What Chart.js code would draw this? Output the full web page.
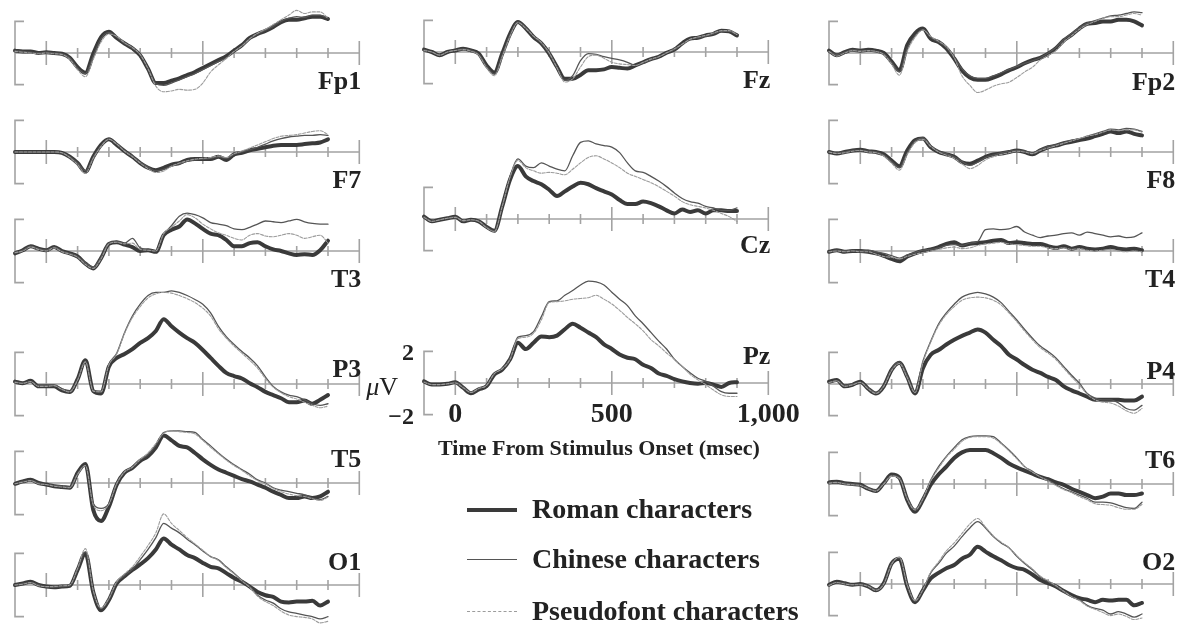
<!DOCTYPE html>
<html>
<head>
<meta charset="utf-8">
<title>ERP waveforms by electrode</title>
<script src="https://cdn.jsdelivr.net/npm/chart.js@4.4.1/dist/chart.umd.min.js"></script>
<style>
  body { margin: 0; background: #fff; }
  #page { position: relative; width: 1180px; height: 624px; overflow: hidden; background: #fff; }
  #page canvas { position: absolute; }
  .txt { position: absolute; white-space: nowrap; font-family: "Liberation Serif", "Times New Roman", serif; font-weight: bold; color: #222; }
  .key { position: absolute; height: 0; }
</style>
</head>
<body>
<div id="page"></div>
<script>
// time points (msec) shared by every waveform
const times = [-100,-75,-50,-25,0,25,50,75,100,125,150,175,200,225,250,275,300,325,350,375,400,425,450,475,500,525,550,575,600,625,650,675,700,725,750,775,800,825,850,875,900];

// amplitudes (microvolts)
const fp1Roman   = [0.15,0.1,0.1,0.0,0.05,0.0,-0.05,-0.3,-0.9,-1.25,-0.05,1.0,1.35,0.95,0.6,0.3,-0.15,-1.0,-1.9,-1.9,-1.75,-1.6,-1.4,-1.2,-0.95,-0.7,-0.45,-0.2,0.15,0.5,0.95,1.2,1.4,1.65,1.95,2.1,2.1,2.2,2.3,2.3,2.15];
const fp1Chinese = [0.15,0.1,0.05,0.0,0.05,0.0,-0.05,-0.3,-0.95,-1.3,-0.2,0.9,1.3,1.0,0.6,0.3,-0.1,-0.95,-1.95,-2.05,-1.9,-1.7,-1.5,-1.3,-1.05,-0.8,-0.55,-0.3,0.1,0.45,0.9,1.2,1.45,1.7,2.0,2.2,2.3,2.25,2.4,2.4,2.2];
const fp1Pseudo  = [0.1,0.05,0.0,-0.05,0.0,-0.05,-0.1,-0.4,-1.05,-1.5,-0.4,0.7,1.2,1.05,0.65,0.35,-0.1,-1.0,-2.1,-2.45,-2.4,-2.3,-2.35,-2.3,-1.9,-1.2,-0.75,-0.35,0.1,0.45,0.9,1.25,1.5,1.8,2.1,2.4,2.7,2.5,2.6,2.6,2.2];

const f7Roman   = [0,0,0,0,0,0,-0.05,-0.3,-0.7,-1.25,-0.3,0.45,0.8,0.45,0.05,-0.3,-0.7,-1.0,-1.15,-1.0,-0.8,-0.7,-0.5,-0.45,-0.45,-0.45,-0.3,-0.5,-0.15,-0.05,0.1,0.2,0.3,0.4,0.45,0.45,0.45,0.5,0.55,0.6,0.8];
const f7Chinese = [0,0,0,0,0,0,-0.05,-0.3,-0.7,-1.2,-0.35,0.4,0.85,0.5,0.1,-0.25,-0.65,-0.95,-1.2,-1.1,-0.9,-0.75,-0.6,-0.5,-0.45,-0.4,-0.3,-0.4,-0.15,0.0,0.15,0.3,0.5,0.7,0.85,0.95,1.0,1.05,1.05,1.1,1.05];
const f7Pseudo  = [0,0,0,0,0,0,-0.05,-0.35,-0.8,-1.35,-0.4,0.35,0.8,0.5,0.05,-0.3,-0.7,-1.05,-1.3,-1.2,-0.9,-0.7,-0.55,-0.45,-0.4,-0.35,-0.25,-0.35,-0.1,0.05,0.25,0.45,0.65,0.85,1.0,1.05,1.1,1.2,1.3,1.35,1.1];

const t3Roman   = [-0.15,0.05,0.3,0.15,0.05,0.25,0.0,-0.15,-0.35,-0.8,-1.1,-0.45,0.45,0.55,0.4,0.25,0.0,0.05,-0.05,1.0,1.35,1.55,2.0,1.75,1.4,1.1,1.0,0.7,0.3,0.3,0.5,0.55,0.3,0.1,0.0,-0.15,-0.25,-0.2,-0.25,0.05,0.65];
const t3Chinese = [-0.15,0.05,0.3,0.15,0.05,0.25,0.0,-0.15,-0.35,-0.75,-1.0,-0.4,0.5,0.6,0.5,0.8,0.2,0.1,0.0,1.05,1.6,2.2,2.4,2.3,2.1,1.8,1.7,1.6,1.4,1.35,1.5,1.7,1.9,1.85,1.8,1.9,2.0,1.85,1.75,1.7,1.7];
const t3Pseudo  = [-0.1,0.0,0.25,0.1,0.0,0.2,-0.05,-0.2,-0.4,-0.85,-1.1,-0.5,0.45,0.55,0.45,0.5,0.1,0.05,0.0,1.1,1.5,1.9,2.3,2.1,1.7,1.4,1.15,1.0,0.8,0.7,1.0,1.1,0.95,0.9,1.0,1.1,1.0,0.8,0.9,1.0,0.5];

const p3Roman   = [0.15,0.05,0.2,-0.15,-0.15,-0.15,-0.4,-0.5,0.3,1.5,-0.45,-0.6,1.1,1.65,1.9,2.2,2.6,2.9,3.35,4.1,3.65,3.25,2.9,2.6,2.15,1.65,1.15,0.7,0.5,0.35,0.05,-0.2,-0.5,-0.7,-0.9,-1.15,-1.15,-1.05,-1.25,-1.0,-0.7];
const p3Chinese = [0.15,0.05,0.15,-0.1,-0.1,-0.1,-0.3,-0.45,0.3,1.45,-0.4,-0.45,1.25,1.95,3.25,4.3,5.05,5.6,5.8,5.8,5.9,5.8,5.6,5.35,5.05,4.5,3.65,3.0,2.5,2.05,1.65,1.15,0.45,-0.15,-0.5,-0.7,-0.8,-1.0,-1.25,-1.35,-1.25];
const p3Pseudo  = [0.1,0.05,0.15,-0.15,-0.15,-0.1,-0.35,-0.5,0.25,1.4,-0.45,-0.5,1.2,1.9,3.2,4.2,4.9,5.45,5.7,5.8,5.75,5.6,5.4,5.15,4.8,4.3,3.5,2.9,2.4,1.95,1.5,1.0,0.35,-0.2,-0.55,-0.8,-0.95,-1.15,-1.35,-1.5,-1.4];

const t5Roman   = [-0.05,0.1,0.2,0,-0.1,-0.2,-0.25,-0.3,0.65,1.2,-1.7,-2.4,-1.5,-0.1,0.65,0.95,1.4,1.7,2.25,3.0,2.7,2.35,2.25,1.9,1.5,1.15,0.85,0.65,0.45,0.25,0.1,-0.1,-0.3,-0.55,-0.75,-0.95,-0.95,-0.85,-0.95,-0.85,-0.55];
const t5Chinese = [-0.05,0.1,0.15,0,-0.1,-0.15,-0.2,-0.25,0.6,1.1,-1.3,-1.6,-1.3,0.0,0.7,1.0,1.45,1.8,2.4,3.2,3.3,3.3,3.25,3.2,2.75,2.35,1.9,1.5,1.15,0.85,0.55,0.2,0.0,-0.3,-0.45,-0.55,-0.65,-0.75,-0.95,-1.05,-0.85];
const t5Pseudo  = [-0.05,0.05,0.15,-0.05,-0.1,-0.2,-0.25,-0.3,0.55,1.1,-1.4,-1.75,-1.35,-0.05,0.7,1.0,1.5,1.9,2.5,3.15,3.3,3.25,3.2,3.1,2.7,2.25,1.85,1.45,1.1,0.8,0.45,0.15,-0.05,-0.35,-0.55,-0.7,-0.8,-0.85,-1.0,-1.1,-0.9];

const o1Roman   = [0,0.1,0.2,0,-0.1,-0.15,-0.1,-0.05,0.95,2.0,-0.45,-1.6,-0.95,0.1,0.55,0.95,1.3,1.7,2.25,2.95,2.55,2.25,1.9,1.7,1.4,1.15,1.05,0.75,0.45,0.2,-0.1,-0.45,-0.65,-0.75,-1.05,-1.1,-1.05,-1.05,-1.0,-1.3,-1.05];
const o1Chinese = [0,0.1,0.15,0,-0.1,-0.15,-0.1,-0.05,1.0,2.1,-0.4,-1.5,-0.9,0.15,0.6,1.0,1.6,2.25,3.0,3.9,3.6,3.3,2.9,2.55,2.15,1.8,1.6,1.15,0.75,0.3,-0.1,-0.65,-0.95,-1.15,-1.5,-1.7,-1.8,-1.9,-2.0,-2.15,-2.0];
const o1Pseudo  = [0,0.05,0.15,-0.05,-0.1,-0.1,-0.05,0.0,1.05,2.3,-0.35,-1.45,-0.85,0.2,0.7,1.15,1.8,2.5,3.3,4.5,3.9,3.45,3.0,2.6,2.2,1.8,1.55,1.1,0.7,0.25,-0.15,-0.7,-1.05,-1.3,-1.65,-1.9,-2.0,-2.05,-2.15,-2.4,-2.3];

const fzRoman   = [0.15,0,-0.2,0,0.1,0.2,0.1,-0.1,-0.85,-1.3,-0.1,1.15,1.9,1.5,0.95,0.55,-0.1,-0.95,-1.7,-1.7,-1.45,-1.15,-1.15,-1.1,-0.95,-1.0,-1.05,-0.85,-0.65,-0.45,-0.3,-0.05,0.15,0.55,0.85,0.9,1.05,1.15,1.35,1.3,1.05];
const fzChinese = [0.15,0,-0.2,0,0.1,0.2,0.1,-0.15,-0.9,-1.4,-0.2,1.1,1.9,1.55,1.0,0.55,-0.1,-1.0,-1.8,-1.5,-0.55,-0.1,-0.15,-0.3,-0.4,-0.5,-0.65,-0.85,-0.7,-0.5,-0.3,-0.05,0.15,0.5,0.8,0.9,1.0,1.15,1.3,1.3,1.1];
const fzPseudo  = [0.1,0,-0.2,0,0.1,0.15,0.05,-0.2,-1.0,-1.5,-0.3,1.0,1.85,1.5,1.0,0.6,-0.05,-1.0,-1.9,-1.7,-0.95,-0.3,-0.2,-0.4,-0.65,-0.75,-0.8,-0.85,-0.65,-0.45,-0.3,-0.05,0.2,0.5,0.8,0.95,1.05,1.2,1.35,1.35,1.1];

const czRoman   = [0.15,-0.15,-0.05,0.05,0.15,-0.15,-0.05,-0.15,-0.5,-0.75,0.8,2.5,3.35,2.7,2.4,2.2,1.85,1.45,1.75,2.05,2.3,2.2,1.95,1.75,1.55,1.2,0.95,0.95,1.1,1.0,0.8,0.55,0.35,0.6,0.45,0.55,0.35,0.55,0.55,0.5,0.5];
const czChinese = [0.15,-0.15,-0.05,0.05,0.15,-0.15,-0.05,-0.15,-0.5,-0.75,0.85,2.7,3.8,3.35,3.25,3.55,3.35,3.15,3.05,4.0,4.85,4.95,4.75,4.65,4.55,4.2,3.55,3.05,2.95,2.7,2.4,2.05,1.65,1.3,1.1,1.0,0.8,0.7,0.55,0.55,0.7];
const czPseudo  = [0.1,-0.15,-0.05,0.05,0.1,-0.1,-0.05,-0.15,-0.55,-0.8,0.8,2.65,3.7,3.25,3.05,2.9,2.95,2.9,2.8,3.15,3.55,3.9,4.0,3.8,3.55,3.25,2.9,2.7,2.5,2.3,2.05,1.75,1.45,1.1,0.9,0.8,0.7,0.55,0.35,0.15,-0.15];

const pzRoman   = [0.1,-0.1,-0.1,-0.05,0.05,-0.3,-0.65,-0.4,-0.2,0.55,0.85,1.5,2.55,2.15,2.55,2.95,2.9,3.0,3.4,3.75,3.5,3.2,2.9,2.45,2.15,1.8,1.6,1.5,1.15,0.95,0.6,0.45,0.25,0.1,0,-0.05,0,-0.1,-0.25,0,0.05];
const pzChinese = [0.1,-0.1,-0.1,-0.05,0.05,-0.25,-0.6,-0.35,-0.15,0.6,0.9,1.55,2.9,3.0,3.25,4.2,5.15,5.2,5.55,5.85,6.2,6.45,6.4,6.2,5.75,5.3,4.9,4.25,3.75,3.2,2.65,2.15,1.5,1.05,0.65,0.3,0.1,-0.2,-0.55,-0.65,-0.65];
const pzPseudo  = [0.05,-0.1,-0.1,-0.05,0.0,-0.3,-0.6,-0.35,-0.15,0.6,0.9,1.5,2.8,2.9,3.15,4.0,5.1,5.15,5.2,5.3,5.35,5.4,5.55,5.3,5.0,4.6,4.15,3.75,3.3,2.75,2.35,1.9,1.5,1.05,0.55,0.2,-0.1,-0.45,-0.75,-0.85,-0.85];

const fp2Roman   = [0.15,-0.15,0.05,0.2,0.15,0.2,0.15,0,-0.55,-1.1,0.5,1.25,1.55,0.9,0.7,0.3,-0.35,-1.1,-1.55,-1.7,-1.7,-1.55,-1.35,-1.1,-0.9,-0.65,-0.45,-0.3,-0.05,0.3,0.8,1.15,1.55,1.85,1.9,2.0,2.0,2.1,2.1,2.0,1.75];
const fp2Chinese = [0.1,-0.1,0.05,0.2,0.15,0.15,0.1,-0.05,-0.6,-1.2,0.3,1.1,1.5,1.0,0.7,0.35,-0.3,-1.0,-1.45,-1.6,-1.6,-1.45,-1.25,-1.05,-0.85,-0.65,-0.5,-0.3,0.0,0.35,0.85,1.25,1.6,1.9,2.05,2.2,2.35,2.4,2.5,2.6,2.55];
const fp2Pseudo  = [0.1,-0.2,0.0,0.15,0.1,0.15,0.1,-0.1,-0.7,-1.4,0.1,1.0,1.45,1.05,0.75,0.4,-0.3,-1.45,-2.05,-2.5,-2.35,-2.1,-1.95,-1.85,-1.55,-1.2,-0.9,-0.45,-0.15,0.15,0.7,1.1,1.5,1.8,2.0,2.2,2.3,2.3,2.4,2.5,2.4];

const f8Roman   = [0,-0.1,0,0.1,0.15,0.05,0,-0.15,-0.55,-0.9,0.1,0.75,0.85,0.3,0,-0.15,-0.3,-0.65,-0.75,-0.55,-0.3,-0.15,-0.1,0,0.1,0,-0.15,0.1,0.3,0.4,0.55,0.65,0.75,0.85,1.0,1.15,1.3,1.2,1.3,1.15,1.05];
const f8Chinese = [0,-0.05,0,0.1,0.1,0.05,0,-0.2,-0.6,-1.0,-0.05,0.7,0.9,0.4,0.05,-0.1,-0.3,-0.6,-0.85,-0.65,-0.35,-0.2,-0.05,0.05,0.1,0.05,-0.05,0.15,0.35,0.45,0.6,0.75,0.85,1.0,1.15,1.3,1.45,1.4,1.5,1.45,1.3];
const f8Pseudo  = [0,-0.1,-0.05,0.05,0.1,0,-0.05,-0.25,-0.7,-1.15,-0.15,0.6,0.8,0.35,0.0,-0.2,-0.4,-0.75,-1.05,-0.85,-0.5,-0.3,-0.15,-0.05,0.05,0.0,-0.1,0.1,0.25,0.4,0.55,0.7,0.85,1.0,1.1,1.25,1.4,1.35,1.4,1.4,1.25];

const t4Roman   = [-0.05,0.05,-0.05,0,0,-0.05,-0.15,-0.3,-0.5,-0.65,-0.35,-0.15,0,0.1,0.25,0.45,0.55,0.35,0.45,0.5,0.55,0.65,0.7,0.5,0.55,0.5,0.45,0.45,0.3,0.2,0.3,0.15,0.25,0.15,0.1,0.15,0.25,0.15,0.1,0.15,0.05];
const t4Chinese = [-0.05,0.05,0,0.05,0,0.05,-0.05,-0.15,-0.3,-0.45,-0.25,-0.1,0.05,0.1,0.2,0.35,0.4,0.35,0.5,0.6,1.35,1.4,1.35,1.4,1.55,1.2,1.0,0.85,0.95,1.0,1.1,1.15,1.0,1.2,1.1,1.0,0.9,0.95,0.85,0.9,1.15];
const t4Pseudo  = [-0.05,0,-0.05,0,-0.05,-0.05,-0.2,-0.35,-0.4,-0.5,-0.35,-0.2,-0.1,0,0.1,0.2,0.25,0.15,0.2,0.35,0.45,0.5,0.55,0.45,0.4,0.35,0.3,0.3,0.2,0.15,0.2,0.1,0.15,0.05,0.0,0.05,0.1,0.0,-0.05,0.0,-0.05];

const p4Roman   = [0.15,0.25,-0.15,-0.05,0.15,-0.3,-0.6,-0.15,0.9,1.35,0.45,-0.6,1.0,1.85,2.15,2.5,2.8,3.05,3.25,3.45,3.25,2.8,2.4,1.85,1.55,1.2,0.9,0.7,0.45,0.25,-0.15,-0.4,-0.6,-0.8,-1.0,-1.0,-1.0,-1.0,-1.05,-1.05,-0.8];
const p4Chinese = [0.1,0.2,-0.1,0,0.1,-0.25,-0.55,-0.1,0.95,1.4,0.5,-0.5,1.45,2.7,3.8,4.5,5.05,5.5,5.7,5.8,5.7,5.5,5.15,4.6,4.05,3.45,2.9,2.4,2.05,1.65,1.1,0.55,0.05,-0.6,-0.9,-1.0,-1.0,-1.2,-1.55,-1.65,-1.35];
const p4Pseudo  = [0.1,0.2,-0.15,-0.05,0.1,-0.3,-0.6,-0.15,0.85,1.3,0.4,-0.55,1.35,2.65,3.7,4.4,4.9,5.3,5.45,5.5,5.45,5.3,5.0,4.5,3.95,3.35,2.8,2.3,1.95,1.55,1.0,0.45,-0.05,-0.65,-1.0,-1.15,-1.2,-1.4,-1.7,-1.85,-1.55];

const t6Roman   = [0.1,0.15,0.05,0,-0.05,-0.3,-0.45,0.05,0.6,0.4,-1.0,-1.75,-1.0,-0.05,0.6,1.1,1.65,2.0,2.15,2.15,2.15,1.95,1.65,1.3,1.05,0.85,0.65,0.45,0.3,0.1,-0.05,-0.3,-0.5,-0.7,-0.9,-0.8,-0.6,-0.6,-0.7,-0.7,-0.6];
const t6Chinese = [0.1,0.1,0.05,0,-0.05,-0.25,-0.4,0.05,0.55,0.4,-0.9,-1.6,-0.9,0.25,1.1,1.75,2.3,2.8,3.0,3.05,3.05,3.0,2.6,2.15,1.65,1.1,0.8,0.45,0.25,-0.05,-0.3,-0.5,-0.7,-0.9,-1.15,-1.15,-1.2,-1.35,-1.5,-1.55,-1.15];
const t6Pseudo  = [0.05,0.1,0.0,-0.05,-0.1,-0.3,-0.45,0.0,0.5,0.35,-0.95,-1.65,-0.95,0.2,1.0,1.7,2.2,2.7,2.95,3.0,3.0,2.9,2.55,2.1,1.6,1.1,0.75,0.45,0.2,-0.1,-0.35,-0.55,-0.8,-1.0,-1.25,-1.3,-1.35,-1.5,-1.6,-1.6,-1.3];

const o2Roman   = [-0.05,0.15,0.05,-0.05,0,-0.15,-0.4,0.05,1.3,1.6,-0.15,-1.15,-0.4,0.35,0.7,1.0,1.2,1.6,1.85,2.35,2.05,1.75,1.5,1.2,1.0,0.9,0.6,0.25,0.05,-0.15,-0.45,-0.7,-0.9,-1.0,-1.15,-1.0,-1.05,-1.0,-1.0,-1.35,-1.2];
const o2Chinese = [-0.05,0.1,0.05,-0.05,0,-0.1,-0.35,0.05,1.3,1.65,-0.1,-1.1,-0.4,0.7,1.3,1.95,2.4,3.0,3.55,3.95,3.55,3.0,2.6,2.3,1.75,1.3,0.9,0.45,0.15,-0.15,-0.5,-0.8,-1.0,-1.35,-1.55,-1.65,-1.9,-1.75,-1.9,-2.1,-1.9];
const o2Pseudo  = [-0.1,0.1,0.0,-0.05,-0.05,-0.15,-0.4,0.0,1.25,1.7,-0.05,-1.05,-0.35,0.75,1.4,2.1,2.6,3.2,3.8,4.15,3.6,3.05,2.65,2.3,1.8,1.35,0.95,0.5,0.2,-0.1,-0.45,-0.8,-1.05,-1.4,-1.6,-1.8,-2.0,-1.9,-2.05,-2.25,-2.15];

const conditions = ['Roman characters', 'Chinese characters', 'Pseudofont characters'];
const waves = {
  Fp1: [fp1Roman, fp1Chinese, fp1Pseudo], F7: [f7Roman, f7Chinese, f7Pseudo], T3: [t3Roman, t3Chinese, t3Pseudo],
  P3: [p3Roman, p3Chinese, p3Pseudo], T5: [t5Roman, t5Chinese, t5Pseudo], O1: [o1Roman, o1Chinese, o1Pseudo],
  Fz: [fzRoman, fzChinese, fzPseudo], Cz: [czRoman, czChinese, czPseudo], Pz: [pzRoman, pzChinese, pzPseudo],
  Fp2: [fp2Roman, fp2Chinese, fp2Pseudo], F8: [f8Roman, f8Chinese, f8Pseudo], T4: [t4Roman, t4Chinese, t4Pseudo],
  P4: [p4Roman, p4Chinese, p4Pseudo], T6: [t6Roman, t6Chinese, t6Pseudo], O2: [o2Roman, o2Chinese, o2Pseudo]
};

// tick labels of the scale shown on Pz
const xTickValues = [0, 500, 1000];
const xTickLabels = ['0', '500', '1,000'];
const yTickValues = [2, -2];
const yTickLabels = ['2', '\u22122'];
const xTitle = 'Time From Stimulus Onset (msec)';

// ---- layout ----
const PX_MS = 0.313, PX_UV = 15.8;
const colX = [15.4, 423.7, 828.7];          // pixel of -100 ms in each column
// name, column, baseline y, label offset from baseline
const layout = [
  ['Fp1', 0, 53, 36], ['F7', 0, 152.3, 36], ['T3', 0, 251, 36],
  ['P3', 0, 384, -7], ['T5', 0, 483.3, -16], ['O1', 0, 585, -15],
  ['Fz', 1, 51.7, 36], ['Cz', 1, 219, 34], ['Pz', 1, 383.3, -19],
  ['Fp2', 2, 52.7, 37], ['F8', 2, 151.7, 36], ['T4', 2, 250.7, 36],
  ['P4', 2, 384, -5], ['T6', 2, 484, -16], ['O2', 2, 584, -14]
];
const lineStyles = [
  { color: '#3a3a3a', width: 4, dash: [] },
  { color: '#555555', width: 1.3, dash: [] },
  { color: '#9c9c9c', width: 1.1, dash: [3, 1.5] }
];
const SERIF = '"Liberation Serif", "Times New Roman", serif';
const PAD_L = 70, CANVAS_W = 450, CANVAS_H = 320;

const page = document.getElementById('page');

const erpAxes = {
  id: 'erpAxes',
  beforeDatasetsDraw(chart, args, o) {
    const { ctx, scales: { x, y } } = chart;
    const y0 = y.getPixelForValue(0);
    const xa = x.getPixelForValue(-100), xb = x.getPixelForValue(1000);
    const yt = y.getPixelForValue(2), yb = y.getPixelForValue(-2);
    ctx.save();
    ctx.strokeStyle = '#a3a3a3';
    ctx.lineWidth = 1.6;
    ctx.beginPath();
    ctx.moveTo(xa, y0);
    ctx.lineTo(xb, y0);
    for (let t = 0; t <= 1000; t += 100) {
      const px = x.getPixelForValue(t);
      const h = t % 500 === 0 ? 12 : 5;
      ctx.moveTo(px, y0 - h);
      ctx.lineTo(px, y0 + h);
    }
    ctx.moveTo(xa + 9, yt);
    ctx.lineTo(xa, yt);
    ctx.lineTo(xa, yb);
    ctx.lineTo(xa + 9, yb);
    ctx.stroke();
    ctx.restore();
  },
  afterDatasetsDraw(chart, args, o) {
    const { ctx, scales: { x, y } } = chart;
    const y0 = y.getPixelForValue(0);
    const xa = x.getPixelForValue(-100), xb = x.getPixelForValue(1000);
    ctx.save();
    ctx.fillStyle = '#222';
    ctx.textBaseline = 'alphabetic';
    ctx.font = 'bold 26px ' + SERIF;
    ctx.textAlign = 'right';
    ctx.fillText(o.label, xb + 2, y0 + o.dy);
    if (o.scale) {
      ctx.font = 'bold 28px ' + SERIF;
      ctx.textAlign = 'center';
      xTickValues.forEach((v, i) => ctx.fillText(xTickLabels[i], x.getPixelForValue(v), y0 + 39));
      ctx.font = 'bold 24px ' + SERIF;
      ctx.textAlign = 'right';
      yTickValues.forEach((v, i) => ctx.fillText(yTickLabels[i], xa - 10, y.getPixelForValue(v) + 9));
      ctx.font = '26px ' + SERIF;
      const vw = ctx.measureText('V').width;
      ctx.fillText('V', xa - 26, y0 + 12);
      ctx.font = 'italic 26px ' + SERIF;
      ctx.fillText('\u03bc', xa - 26 - vw, y0 + 12);
    }
    ctx.restore();
  }
};

layout.forEach(([name, col, base, dy]) => {
  const cv = document.createElement('canvas');
  const left = colX[col] - PAD_L, top = base - CANVAS_H / 2;
  cv.width = CANVAS_W; cv.height = CANVAS_H;
  cv.style.left = left + 'px';
  cv.style.top = top + 'px';
  cv.style.width = CANVAS_W + 'px';
  cv.style.height = CANVAS_H + 'px';
  page.appendChild(cv);
  const xmin = -100 - PAD_L / PX_MS;
  const datasets = [2, 1, 0].map(k => ({
    label: conditions[k],
    data: times.map((t, i) => ({ x: t, y: waves[name][k][i] })),
    borderColor: lineStyles[k].color,
    borderWidth: lineStyles[k].width,
    borderDash: lineStyles[k].dash,
    pointRadius: 0,
    fill: false,
    cubicInterpolationMode: 'monotone',
    borderJoinStyle: 'round',
    borderCapStyle: 'round'
  }));
  new Chart(cv, {
    type: 'line',
    data: { datasets },
    options: {
      responsive: false,
      animation: false,
      devicePixelRatio: 1,
      events: [],
      layout: { padding: 0 },
      scales: {
        x: { type: 'linear', display: false, min: xmin, max: xmin + CANVAS_W / PX_MS },
        y: { type: 'linear', display: false, min: -(CANVAS_H / 2) / PX_UV, max: (CANVAS_H / 2) / PX_UV }
      },
      plugins: {
        legend: { display: false },
        tooltip: { enabled: false },
        erpAxes: { label: name, dy: dy, scale: name === 'Pz' }
      }
    },
    plugins: [erpAxes]
  });
});

// html text helper: positions by baseline
function addText(str, x, baseline, size) {
  const d = document.createElement('div');
  d.className = 'txt';
  d.textContent = str;
  d.style.fontSize = size + 'px';
  d.style.lineHeight = size + 'px';
  d.style.left = x + 'px';
  d.style.top = (baseline - 0.8375 * size) + 'px';
  page.appendChild(d);
  return d;
}

addText(xTitle, 438, 455, 22);

// legend
const keyY = [510, 560, 612];
conditions.forEach((c, k) => {
  const s = lineStyles[k];
  const key = document.createElement('div');
  key.className = 'key';
  key.style.left = '467px';
  key.style.width = '50px';
  key.style.top = (keyY[k] - s.width / 2) + 'px';
  key.style.borderTop = Math.max(1, s.width) + 'px ' + (s.dash.length ? 'dashed ' : 'solid ') + s.color;
  page.appendChild(key);
  addText(c, 532, keyY[k] + 8, 28);
});
</script>
</body>
</html>
